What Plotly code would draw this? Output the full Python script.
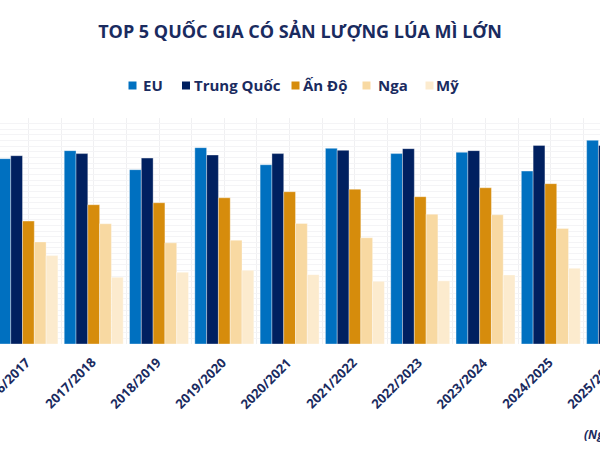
import plotly.graph_objects as go

seasons = ["2016/2017", "2017/2018", "2018/2019", "2019/2020", "2020/2021",
           "2021/2022", "2022/2023", "2023/2024", "2024/2025", "2025/2026"]
eu = [131.2, 136.9, 123.4, 139.0, 126.9, 138.5, 134.8, 135.7, 122.4, 144.2]
trung_quoc = [133.3, 134.8, 131.6, 133.8, 134.8, 137.1, 138.3, 136.9, 140.6, 140.6]
an_do = [87.0, 98.6, 100.0, 103.5, 107.8, 109.6, 104.3, 110.6, 113.5, 117.0]
nga = [72.3, 85.1, 71.6, 73.5, 85.3, 75.2, 91.9, 91.5, 81.8, 84.0]
my = [62.6, 47.2, 50.8, 52.2, 49.1, 44.4, 44.7, 48.9, 53.6, 53.0]

series_names = ["EU", "Trung Quốc", "Ấn Độ", "Nga", "Mỹ"]
series_values = [eu, trung_quoc, an_do, nga, my]
series_colors = ["#0070C0", "#002060", "#D68C0C", "#F8D9A2", "#FCEBCE"]

NAVY = "#1A2B5F"
FONT = "Open Sans"
W, H = 600, 450
MT, MB = 118, 106
PH = H - MT - MB
xpos = list(range(len(seasons)))

fig = go.Figure()
for name, vals, col in zip(series_names, series_values, series_colors):
    fig.add_trace(go.Bar(
        x=xpos, y=vals, name=name, showlegend=False,
        marker=dict(color=col, line=dict(color="rgba(255,255,255,0.35)", width=1)),
    ))

fig.update_layout(
    width=W, height=H,
    margin=dict(l=0, r=0, t=MT, b=MB),
    paper_bgcolor="white", plot_bgcolor="white",
    barmode="group", bargap=0.097, bargroupgap=0,
    font=dict(family=FONT, color=NAVY),
    title=dict(text="<b>TOP 5 QUỐC GIA CÓ SẢN LƯỢNG LÚA MÌ LỚN</b>",
               x=0.5, xanchor="center", y=1 - 32 / H, yanchor="middle",
               font=dict(family=FONT, size=18, color=NAVY)),
    showlegend=False,
)
fig.update_xaxes(
    range=[-0.435, 8.753],
    tickmode="array", tickvals=xpos, ticktext=[""] * len(seasons),
    showgrid=True, gridcolor="#F0F0F2", gridwidth=1,
    minor=dict(tickmode="linear", tick0=0.5, dtick=1, showgrid=True, gridcolor="#F0F0F2"),
    zeroline=False, showline=False,
)
fig.update_yaxes(
    range=[0, 160], dtick=4, showgrid=True, gridcolor="#F4F4F6",
    showticklabels=False, zeroline=False, showline=False,
)

# category labels, rotated, placed through the x-axis scale
label_dx = -0.363
label_y = (344 - 383) / PH
for i, s in zip(xpos, seasons):
    fig.add_annotation(
        text=f"<b>{s}</b>", xref="x", yref="paper", x=i + label_dx, y=label_y,
        xanchor="center", yanchor="middle", textangle=-45, showarrow=False,
        font=dict(family=FONT, size=13, color=NAVY),
    )

# legend
legend_sq_x = [128.5, 182, 291.5, 362.5, 425.5]
legend_tx_x = [142, 193, 302.5, 377, 434.5]
sq = 8
ly_mid = (344 - 85.5) / PH
for name, col, sx, tx in zip(series_names, series_colors, legend_sq_x, legend_tx_x):
    fig.add_shape(type="rect", xref="paper", yref="paper",
                  x0=sx / W, x1=(sx + sq) / W,
                  y0=ly_mid - (sq / 2) / PH, y1=ly_mid + (sq / 2) / PH,
                  fillcolor=col, line=dict(width=0))
    fig.add_annotation(
        text=f"<b>{name}</b>", xref="paper", yref="paper", x=(tx - 1) / W, y=ly_mid,
        xanchor="left", yanchor="middle", showarrow=False,
        font=dict(family=FONT, size=15, color=NAVY),
    )

fig.add_annotation(
    text="<b><i>(Nguồn: USDA)</i></b>", xref="paper", yref="paper",
    x=582 / W, y=(344 - 434) / PH, xanchor="left", yanchor="middle", showarrow=False,
    font=dict(family=FONT, size=12, color=NAVY),
)
fig.write_html("out.html")
